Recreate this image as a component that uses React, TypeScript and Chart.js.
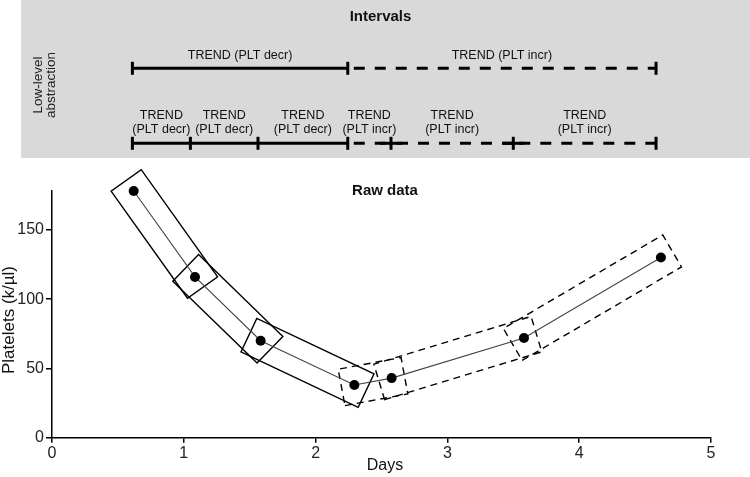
import React, { useEffect, useRef } from "react";
import { Chart, registerables } from "chart.js";

Chart.register(...registerables);

// ---- data ----
const days = [0.62, 1.085, 1.583, 2.294, 2.577, 3.581, 4.62];
const platelets = [178, 116, 70, 38, 43, 72, 130];
const xTickValues = [0, 1, 2, 3, 4, 5];
const yTickValues = [0, 50, 100, 150];

// lower-level abstraction intervals (days)
const lowStarts = [0.61, 1.05, 1.563, 2.244, 2.572, 3.5];
const lowEnds = [1.05, 1.563, 2.244, 2.572, 3.5, 4.583];
const lowTrends = ["decr", "decr", "decr", "incr", "incr", "incr"];
// upper-level intervals
const highStarts = [0.61, 2.244];
const highEnds = [2.244, 4.583];
const highTrends = ["decr", "incr"];

const FONT = '"Liberation Sans", Arial, Helvetica, sans-serif';

const drawPlugin = {
  id: "intervalsPanel",
  beforeDraw(chart: any) {
    const ctx = chart.ctx as CanvasRenderingContext2D;
    const xs = chart.scales.x;
    ctx.save();
    ctx.fillStyle = "#ffffff";
    ctx.fillRect(0, 0, chart.width, chart.height);
    ctx.fillStyle = "#d9d9d9";
    ctx.fillRect(21, 0, chart.width - 21, 158);

    ctx.fillStyle = "#111";
    ctx.textAlign = "center";
    ctx.textBaseline = "middle";
    ctx.font = `bold 15px ${FONT}`;
    ctx.fillText("Intervals", 380.5, 17);

    // rotated side label
    ctx.save();
    ctx.translate(45, 85);
    ctx.rotate(-Math.PI / 2);
    ctx.font = `13.5px ${FONT}`;
    ctx.fillStyle = "#222";
    ctx.fillText("Low-level", 0, -6.5);
    ctx.fillText("abstraction", 0, 6.5);
    ctx.restore();

    const drawBar = (
      y: number,
      starts: number[],
      ends: number[],
      trends: string[],
      upper: boolean
    ) => {
      ctx.strokeStyle = "#000";
      ctx.lineWidth = 3;
      ctx.lineCap = "butt";
      for (let i = 0; i < starts.length; i++) {
        const x0 = xs.getPixelForValue(starts[i]);
        const x1 = xs.getPixelForValue(ends[i]);
        const dashed = trends[i] === "incr";
        ctx.beginPath();
        if (dashed) {
          ctx.setLineDash([11, 10]);
          ctx.lineDashOffset = 15;
        } else {
          ctx.setLineDash([]);
        }
        ctx.moveTo(x0, y);
        ctx.lineTo(x1, y);
        ctx.stroke();
        ctx.setLineDash([]);
        // label
        const cx = (x0 + x1) / 2;
        ctx.fillStyle = "#111";
        ctx.font = `12.5px ${FONT}`;
        const word = `(PLT ${trends[i]})`;
        if (upper) {
          ctx.fillText(`TREND ${word}`, cx, y - 12.5);
        } else {
          ctx.fillText("TREND", cx, y - 28);
          ctx.fillText(word, cx, y - 14);
        }
      }
      // boundary ticks
      const bounds = [starts[0], ...ends];
      ctx.setLineDash([]);
      for (let j = 0; j < bounds.length; j++) {
        const bx = xs.getPixelForValue(bounds[j]);
        ctx.beginPath();
        ctx.moveTo(bx, y - 6.5);
        ctx.lineTo(bx, y + 6.5);
        ctx.stroke();
        const leftDashed = j > 0 && trends[j - 1] === "incr";
        const rightDashed = j < trends.length && trends[j] === "incr";
        if (leftDashed && rightDashed) {
          ctx.beginPath();
          ctx.moveTo(bx - 11, y);
          ctx.lineTo(bx + 11, y);
          ctx.stroke();
        }
      }
    };

    drawBar(68.3, highStarts, highEnds, highTrends, true);
    drawBar(143.3, lowStarts, lowEnds, lowTrends, false);
    ctx.restore();
  },
  beforeDatasetsDraw(chart: any) {
    const ctx = chart.ctx as CanvasRenderingContext2D;
    const xs = chart.scales.x;
    const ys = chart.scales.y;
    const ext = 13;
    const hw = 18.5;
    ctx.save();
    ctx.strokeStyle = "#000";
    ctx.lineWidth = 1.4;
    for (let i = 0; i < days.length - 1; i++) {
      const px = xs.getPixelForValue(days[i]);
      const py = ys.getPixelForValue(platelets[i]);
      const qx = xs.getPixelForValue(days[i + 1]);
      const qy = ys.getPixelForValue(platelets[i + 1]);
      const dx = qx - px;
      const dy = qy - py;
      const L = Math.hypot(dx, dy);
      const ux = dx / L;
      const uy = dy / L;
      const nx = -uy;
      const ny = ux;
      const ax = px - ux * ext;
      const ay = py - uy * ext;
      const bx = qx + ux * ext;
      const by = qy + uy * ext;
      ctx.setLineDash(platelets[i + 1] > platelets[i] ? [7, 5] : []);
      ctx.beginPath();
      ctx.moveTo(ax + nx * hw, ay + ny * hw);
      ctx.lineTo(bx + nx * hw, by + ny * hw);
      ctx.lineTo(bx - nx * hw, by - ny * hw);
      ctx.lineTo(ax - nx * hw, ay - ny * hw);
      ctx.closePath();
      ctx.stroke();
    }
    ctx.restore();
  },
  afterDraw(chart: any) {
    const ctx = chart.ctx as CanvasRenderingContext2D;
    ctx.save();
    ctx.fillStyle = "#111";
    ctx.textAlign = "center";
    ctx.textBaseline = "middle";
    ctx.font = `bold 15px ${FONT}`;
    ctx.fillText("Raw data", 385, 191);
    ctx.font = `16px ${FONT}`;
    ctx.fillText("Days", 385, 466);
    ctx.save();
    ctx.translate(9, 320);
    ctx.rotate(-Math.PI / 2);
    ctx.font = `17px ${FONT}`;
    ctx.fillText("Platelets (k/\u00b5l)", 0, 0);
    ctx.restore();
    ctx.restore();
  },
};

export default function App() {
  const ref = useRef<HTMLCanvasElement>(null);
  useEffect(() => {
    const canvas = ref.current;
    if (!canvas) return;
    const chart = new Chart(canvas, {
      type: "line",
      data: {
        datasets: [
          {
            data: days.map((d, i) => ({ x: d, y: platelets[i] })),
            borderColor: "#444",
            borderWidth: 1.1,
            pointRadius: 5,
            pointBackgroundColor: "#000",
            pointBorderColor: "#000",
            pointBorderWidth: 0,
            tension: 0,
            clip: false as any,
          },
        ],
      },
      options: {
        animation: false,
        responsive: false,
        devicePixelRatio: 1,
        events: [],
        layout: { padding: { top: 191, right: 39, left: 0, bottom: 0 } },
        plugins: { legend: { display: false }, tooltip: { enabled: false } },
        scales: {
          x: {
            type: "linear",
            min: xTickValues[0],
            max: xTickValues[xTickValues.length - 1],
            afterBuildTicks: (s: any) => {
              s.ticks = xTickValues.map((v) => ({ value: v }));
            },
            afterFit: (s: any) => {
              s.height = 39.3;
            },
            ticks: {
              stepSize: 1,
              font: { size: 16, family: FONT },
              color: "#222",
              padding: 1,
              maxRotation: 0,
            },
            grid: {
              drawOnChartArea: false,
              drawTicks: true,
              tickLength: 5,
              color: "#000",
              lineWidth: 1.5,
            },
            border: { display: true, color: "#000", width: 1.5 },
          },
          y: {
            type: "linear",
            min: 0,
            max: 178,
            afterBuildTicks: (s: any) => {
              s.ticks = yTickValues.map((v) => ({ value: v }));
            },
            afterFit: (s: any) => {
              s.width = 52;
            },
            ticks: {
              stepSize: 50,
              font: { size: 16, family: FONT },
              color: "#222",
              padding: 2,
            },
            grid: {
              drawOnChartArea: false,
              drawTicks: true,
              tickLength: 6,
              color: "#000",
              lineWidth: 1.5,
            },
            border: { display: true, color: "#000", width: 1.5 },
          },
        },
      },
      plugins: [drawPlugin],
    });
    return () => chart.destroy();
  }, []);
  return (
    <div style={{ position: "absolute", left: 0, top: 0, width: 750, height: 477 }}>
      <canvas
        ref={ref}
        width={750}
        height={477}
        style={{ display: "block", width: 750, height: 477 }}
      />
    </div>
  );
}
